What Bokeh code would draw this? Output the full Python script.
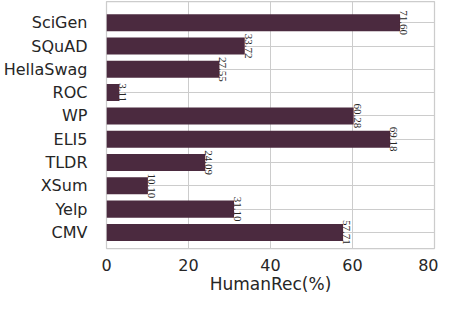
import math
from bokeh.plotting import figure
from bokeh.models import ColumnDataSource, Range1d, FixedTicker
from bokeh.embed import file_html
from bokeh.resources import INLINE

categories = ["SciGen", "SQuAD", "HellaSwag", "ROC", "WP", "ELI5", "TLDR", "XSum", "Yelp", "CMV"]
human_rec = [71.60, 33.72, 27.55, 3.11, 60.28, 69.18, 24.09, 10.10, 31.10, 57.71]
x_ticks = [0, 20, 40, 60, 80]

idx = list(range(len(categories)))
src = ColumnDataSource(dict(
    y=idx,
    v=human_rec,
    lab=[f"{v:.2f}" for v in human_rec],
))

p = figure(width=438, height=296, output_backend="svg", toolbar_location=None,
           x_range=Range1d(0, 80), y_range=Range1d(len(categories) - 1 + 0.69, -0.91),
           min_border_left=98, min_border_right=4, min_border_top=1, min_border_bottom=30)

p.hbar(y="y", right="v", left=0, height=0.73, source=src, color="#4B2A3F", line_color=None)
p.text(x="v", y="y", text="lab", source=src, angle=-math.pi / 2,
       text_align="center", text_baseline="bottom", text_font_size="11px",
       text_color="#262626", text_font="DejaVu Sans")

p.xaxis.ticker = FixedTicker(ticks=x_ticks)
p.yaxis.ticker = FixedTicker(ticks=idx)
p.yaxis.major_label_overrides = {i: c for i, c in enumerate(categories)}
p.xaxis.axis_label = "HumanRec(%)"

for ax in (p.xaxis, p.yaxis):
    ax.axis_line_color = None
    ax.major_tick_line_color = None
    ax.minor_tick_line_color = None
    ax.major_label_text_font = "DejaVu Sans"
    ax.major_label_text_font_size = "16px"
    ax.major_label_text_color = "#262626"
p.xaxis.axis_label_text_font = "DejaVu Sans"
p.xaxis.axis_label_text_font_size = "17px"
p.xaxis.axis_label_text_font_style = "normal"
p.xaxis.axis_label_text_color = "#262626"
p.xaxis.major_label_standoff = 4
p.xaxis.axis_label_standoff = 0
p.yaxis.major_label_standoff = 13

p.xgrid.grid_line_color = "#cccccc"
p.ygrid.grid_line_color = "#cccccc"
p.xgrid.grid_line_width = 1
p.ygrid.grid_line_width = 1
p.outline_line_color = "#cccccc"
p.outline_line_width = 1.25
p.background_fill_color = "white"
p.border_fill_color = "white"

open("out.html", "w").write(file_html(p, INLINE))
